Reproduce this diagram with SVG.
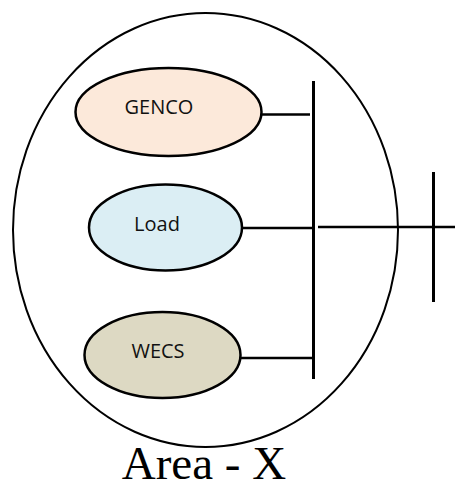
<svg xmlns="http://www.w3.org/2000/svg" width="455" height="480" viewBox="0 0 455 480">
  <style>
    .area { fill: none; stroke: #000; stroke-width: 2; }
    .unit { stroke: #000; stroke-width: 2.5; }
    .label { font-family: "Open Sans", "Noto Sans", sans-serif; font-size: 20px; fill: #111; text-anchor: middle; dominant-baseline: central; }
    .wire { stroke: #000; stroke-width: 2.5; fill: none; }
    .bus { stroke: #000; stroke-width: 3; fill: none; }
    .title { font-family: "Liberation Serif", "Times New Roman", serif; font-size: 47px; fill: #000; text-anchor: middle; }
  </style>
  <rect width="455" height="480" fill="#fff"/>

  <!-- control area boundary -->
  <g id="area">
    <ellipse class="area" cx="205.5" cy="230" rx="192.5" ry="217"/>
  </g>

  <!-- connectors and buses -->
  <g id="connectors">
    <line class="bus" x1="313.5" y1="81" x2="313.5" y2="379"/>
    <line class="bus" x1="433.5" y1="172" x2="433.5" y2="302"/>
    <line class="wire" x1="262" y1="114.5" x2="310" y2="114.5"/>
    <line class="wire" x1="242" y1="228" x2="315" y2="228"/>
    <line class="wire" x1="318" y1="227" x2="455" y2="227"/>
    <line class="wire" x1="241" y1="358" x2="315" y2="358"/>
  </g>

  <g id="genco">
    <ellipse class="unit" cx="168.5" cy="112" rx="93" ry="44" fill="#FCE9DA"/>
    <text class="label" x="159" y="106">GENCO</text>
  </g>

  <g id="load">
    <ellipse class="unit" cx="165.5" cy="227.5" rx="76.5" ry="43" fill="#DBEEF4"/>
    <text class="label" x="157" y="223">Load</text>
  </g>

  <g id="wecs">
    <ellipse class="unit" cx="162.5" cy="355" rx="78" ry="43" fill="#DDD9C3"/>
    <text class="label" x="158" y="350">WECS</text>
  </g>

  <g id="caption">
    <text class="title" x="204" y="479">Area - X</text>
  </g>
</svg>
